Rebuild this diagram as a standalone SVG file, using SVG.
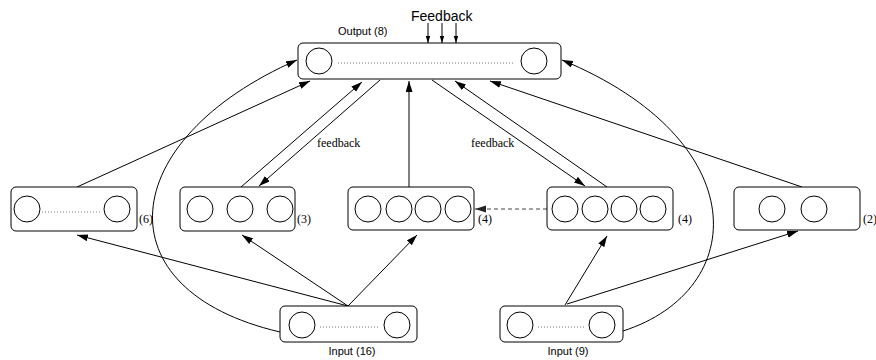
<svg xmlns="http://www.w3.org/2000/svg" width="876" height="360" viewBox="0 0 876 360">
<style>
.box{fill:#fff;stroke:#000;stroke-width:1}
.c{fill:none;stroke:#000;stroke-width:1}
.dot{stroke:#555;stroke-width:0.8;stroke-dasharray:1,2}
.ln{fill:none;stroke:#000;stroke-width:1}
.sans{font-family:"Liberation Sans",Arial,sans-serif;fill:#000}
.serif{font-family:"Liberation Serif","Times New Roman",serif;fill:#000;font-size:12px}
</style>
<defs>
<marker id="ah" markerUnits="userSpaceOnUse" markerWidth="12" markerHeight="8" refX="11" refY="3.5" orient="auto">
<path d="M0,0 L11,3.5 L0,7 z" fill="#000"/>
</marker>
<marker id="ahs" markerUnits="userSpaceOnUse" markerWidth="8" markerHeight="6" refX="7" refY="2.25" orient="auto">
<path d="M0,0 L7,2.25 L0,4.5 z" fill="#000"/>
</marker>
<marker id="ahg" markerUnits="userSpaceOnUse" markerWidth="12" markerHeight="8" refX="11" refY="3.5" orient="auto">
<path d="M0,0 L11,3.5 L0,7 z" fill="#222"/>
</marker>
</defs>

<g id="connectors">
<line class="ln" x1="348" y1="306" x2="77" y2="235" marker-end="url(#ah)"/>
<line class="ln" x1="348" y1="306" x2="242" y2="235" marker-end="url(#ah)"/>
<line class="ln" x1="348" y1="306" x2="417" y2="235" marker-end="url(#ah)"/>
<line class="ln" x1="565" y1="305" x2="607" y2="236" marker-end="url(#ah)"/>
<line class="ln" x1="567" y1="304" x2="798" y2="231" marker-end="url(#ah)"/>
<line class="ln" x1="77" y1="187" x2="310" y2="81" marker-end="url(#ah)"/>
<line class="ln" x1="241" y1="187" x2="362" y2="82" marker-end="url(#ah)"/>
<line class="ln" x1="380" y1="80" x2="259" y2="186" marker-end="url(#ah)"/>
<line class="ln" x1="409" y1="187" x2="409" y2="81" marker-end="url(#ah)"/>
<line class="ln" x1="432" y1="80" x2="585" y2="186" marker-end="url(#ah)"/>
<line class="ln" x1="607" y1="187" x2="455" y2="81" marker-end="url(#ah)"/>
<line class="ln" x1="802" y1="187" x2="490" y2="81" marker-end="url(#ah)"/>
<line x1="547" y1="209" x2="475" y2="209" stroke="#444" stroke-width="1.2" stroke-dasharray="4,3" marker-end="url(#ahg)"/>
<line class="ln" x1="428" y1="23" x2="428" y2="43" marker-end="url(#ahs)"/>
<line class="ln" x1="442" y1="23" x2="442" y2="43" marker-end="url(#ahs)"/>
<line class="ln" x1="456" y1="23" x2="456" y2="43" marker-end="url(#ahs)"/>
<path class="ln" d="M280,332 C100,290 115,140 297,60" marker-end="url(#ah)"/>
<path class="ln" d="M623,331 C750,290 755,140 562,60" marker-end="url(#ah)"/>
</g>

<g id="output">
<rect class="box" x="298" y="43" width="263" height="36" rx="5"/>
<circle class="c" cx="319" cy="61" r="13"/>
<circle class="c" cx="534" cy="61" r="13"/>
<line class="dot" x1="338" y1="63" x2="514" y2="63"/>
<text class="sans" x="338" y="35" font-size="11">Output (8)</text>
</g>
<text id="feedback-top" class="sans" x="411" y="21" font-size="14">Feedback</text>

<g id="hidden6">
<rect class="box" x="11" y="187" width="126" height="44" rx="5"/>
<circle class="c" cx="27" cy="209" r="13"/>
<circle class="c" cx="117" cy="209" r="13"/>
<line class="dot" x1="42" y1="212" x2="102" y2="212"/>
<text class="serif" x="139" y="223">(6)</text>
</g>

<g id="hidden3">
<rect class="box" x="180" y="187" width="115" height="44" rx="5"/>
<circle class="c" cx="200" cy="209" r="13"/>
<circle class="c" cx="240" cy="209" r="13"/>
<circle class="c" cx="280" cy="209" r="13"/>
<text class="serif" x="297" y="223">(3)</text>
</g>

<g id="hidden4a">
<rect class="box" x="348" y="187" width="126" height="43" rx="5"/>
<circle class="c" cx="368" cy="209" r="13"/>
<circle class="c" cx="399" cy="209" r="13"/>
<circle class="c" cx="428" cy="209" r="13"/>
<circle class="c" cx="458" cy="209" r="13"/>
<text class="serif" x="478" y="223">(4)</text>
</g>

<g id="hidden4b">
<rect class="box" x="547" y="187" width="126" height="43" rx="5"/>
<circle class="c" cx="565" cy="209" r="13"/>
<circle class="c" cx="595" cy="209" r="13"/>
<circle class="c" cx="624" cy="209" r="13"/>
<circle class="c" cx="653" cy="209" r="13"/>
<text class="serif" x="678" y="223">(4)</text>
</g>

<g id="hidden2">
<rect class="box" x="734" y="187" width="126" height="43" rx="5"/>
<circle class="c" cx="772" cy="209" r="13"/>
<circle class="c" cx="814" cy="209" r="13"/>
<text class="serif" x="863" y="223">(2)</text>
</g>

<g id="input16">
<rect class="box" x="280" y="306" width="137" height="36" rx="5"/>
<circle class="c" cx="302" cy="325" r="13"/>
<circle class="c" cx="397" cy="325" r="13"/>
<line class="dot" x1="320" y1="327" x2="379" y2="327"/>
<text class="sans" x="352" y="355" font-size="11" text-anchor="middle">Input (16)</text>
</g>

<g id="input9">
<rect class="box" x="500" y="306" width="123" height="36" rx="5"/>
<circle class="c" cx="520" cy="325" r="13"/>
<circle class="c" cx="602" cy="325" r="13"/>
<line class="dot" x1="538" y1="327" x2="584" y2="327"/>
<text class="sans" x="568" y="355" font-size="11" text-anchor="middle">Input (9)</text>
</g>

<text class="serif" x="317" y="147">feedback</text>
<text class="serif" x="471" y="147">feedback</text>
</svg>
